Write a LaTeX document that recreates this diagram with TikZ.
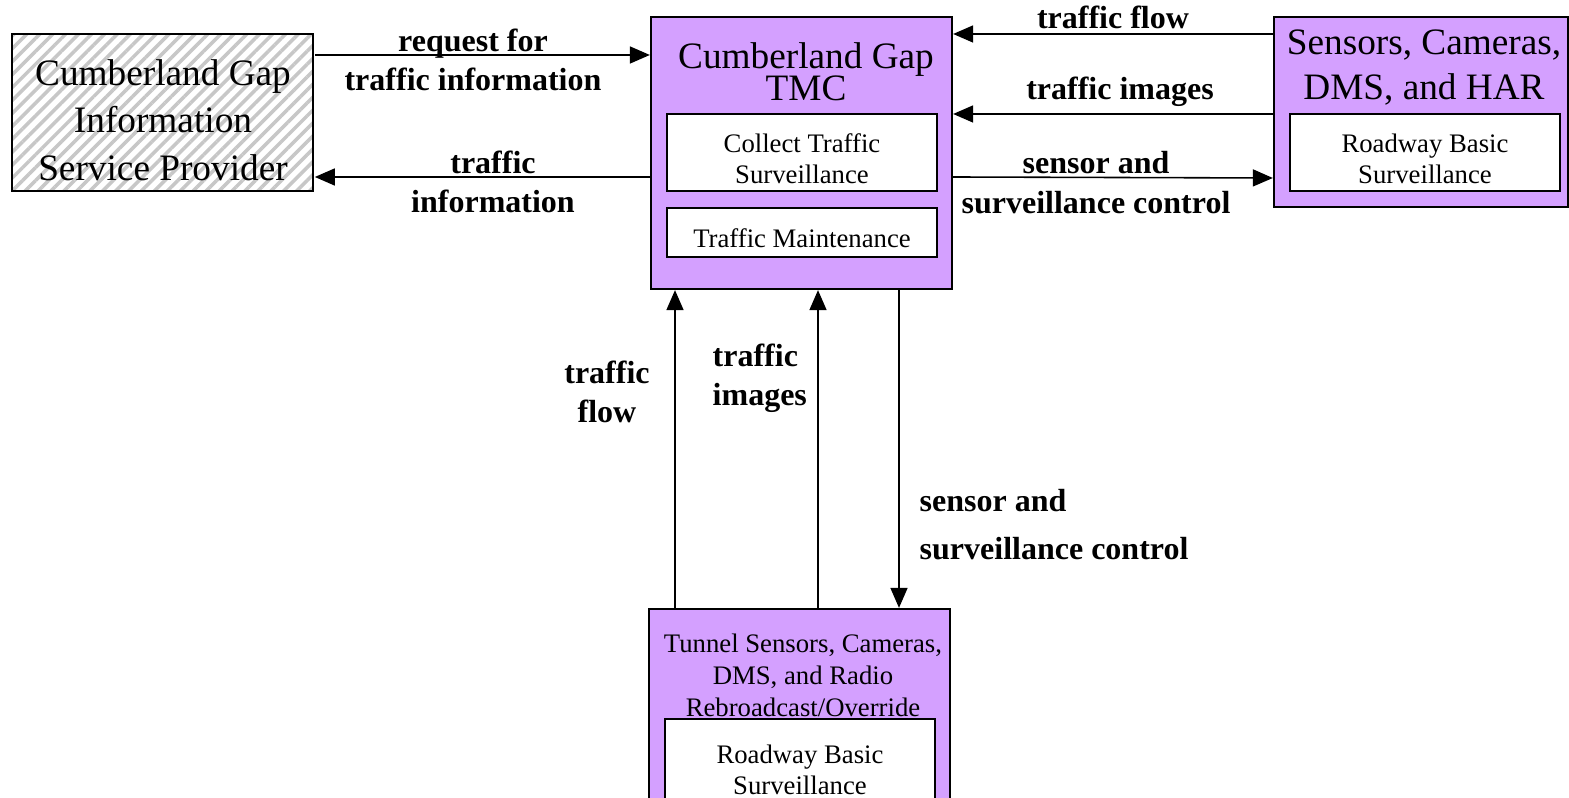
\documentclass[tikz,border=0pt]{standalone}
\usepackage{fontspec}
\setmainfont{Liberation Serif}
\usetikzlibrary{arrows.meta,patterns.meta}
\definecolor{tmcpurple}{RGB}{212,160,255}
\newcommand\tightlines{\lineskiplimit=-20pt\relax}
\begin{document}
\begin{tikzpicture}[x=0.01cm,y=-0.01cm,
    box/.style={draw,line width=0.6pt,fill=tmcpurple,inner sep=0pt},
    sub/.style={draw,line width=0.6pt,fill=white,minimum width=2.70cm,inner sep=0pt,
      text height=17.5pt,align=center,font=\fontsize{7.6}{8.8}\selectfont},
    ttl/.style={inner sep=0pt,align=center,font=\fontsize{10.6}{12.8}\selectfont\tightlines},
    lbl/.style={inner sep=0pt,align=center,font=\fontsize{9.1}{11}\selectfont\bfseries\tightlines},
    flow/.style={-{Triangle[length=0.2cm,width=0.17cm]},line width=0.45pt}]
  \useasboundingbox (0,0) rectangle (1569,798);
  \clip (0,0) rectangle (1569,798);
  % information service provider
  \node[draw,line width=0.6pt,inner sep=0pt,minimum width=3.01cm,minimum height=1.57cm,
    pattern={Lines[angle=45,distance=2.6pt,line width=1pt]},pattern color=black!22](ISP) at (162.5,112.5) {};
  \node[ttl,font=\fontsize{10.6}{13.5}\selectfont\tightlines](ISPt) at (163,120) {Cumberland Gap\\Information\\Service Provider};
  % TMC
  \node[box,minimum width=3.01cm,minimum height=2.72cm](TMC) at (801.5,153) {};
  \node[ttl,font=\fontsize{10.6}{9}\selectfont\tightlines](TMCt) at (806,72) {Cumberland Gap\\TMC};
  \node[sub,minimum height=0.77cm](TMCa) at (802,152.5) {Collect Traffic\\Surveillance};
  \node[sub,minimum height=0.49cm,text height=8.5pt](TMCb) at (802,232.5) {Traffic Maintenance};
  % roadside devices
  \node[box,minimum width=2.94cm,minimum height=1.90cm](SCD) at (1421,112) {};
  \node[ttl](SCDt) at (1424,68) {Sensors, Cameras,\\DMS, and HAR};
  \node[sub,minimum height=0.77cm](SCDs) at (1425,152.5) {Roadway Basic\\Surveillance};
  % tunnel devices
  \node[box,minimum width=3.01cm,minimum height=2.12cm](TUN) at (799.5,715) {};
  \node[ttl,font=\fontsize{7.6}{9.1}\selectfont\tightlines](TUNt) at (803,675) {Tunnel Sensors, Cameras,\\DMS, and Radio\\Rebroadcast/Override};
  \node[sub,minimum height=0.9cm](TUNs) at (800,764) {Roadway Basic\\Surveillance};
  % flows
  \draw[flow](ISP.east |- 0,55) -- (TMC.west |- 0,55);
  \draw[flow](TMC.west |- 0,177) -- (ISP.east |- 0,177);
  \foreach \y in {34,114}{
    \draw[flow](SCD.west |- 0,\y) -- (TMC.east |- 0,\y);
  }
  \draw[flow](TMC.east |- 0,177) -- (SCD.west |- 0,178);
  \foreach \x in {675,818}{
    \draw[flow](TUN.north -| \x,0) -- (TMC.south -| \x,0);
  }
  \draw[flow](TMC.south -| 899,0) -- (TUN.north -| 899,0);
  % labels
  \node[lbl](Lreq) at (473,60) {request for\\traffic information};
  \node[lbl](Linfo) at (493,182) {traffic\\information};
  \node[lbl](Lflow) at (1113,17) {traffic flow};
  \node[lbl](Limg) at (1120,92) {traffic images};
  \node[lbl,font=\fontsize{9.1}{11.4}\selectfont\bfseries\tightlines](Lctl) at (1096,183) {sensor and\\surveillance control};
  \node[lbl](Lvflow) at (607,392) {traffic\\flow};
  \node[lbl,align=left,anchor=west](Lvimg) at (712,378) {traffic\\images};
  \node[lbl,align=left,anchor=west,font=\fontsize{9.1}{13.7}\selectfont\bfseries\tightlines](Lvctl) at (919,525) {sensor and\\surveillance control};
\end{tikzpicture}
\end{document}
